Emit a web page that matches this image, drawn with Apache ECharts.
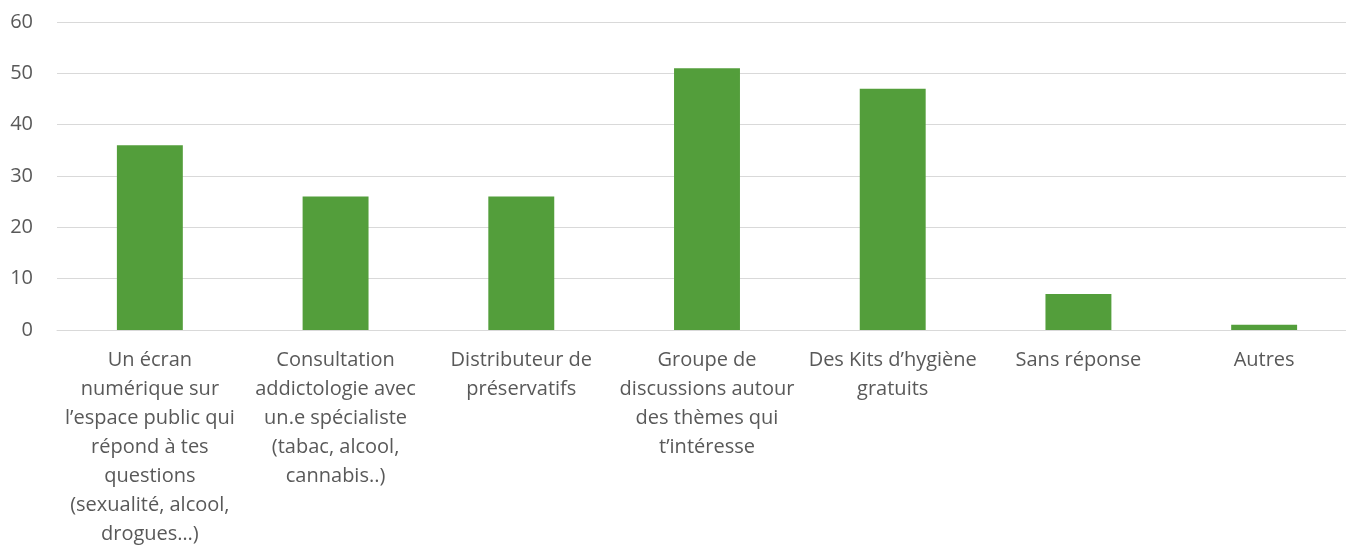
<!DOCTYPE html>
<html>
<head>
<meta charset="utf-8">
<script src="https://cdn.jsdelivr.net/npm/echarts@6/dist/echarts.min.js"></script>
<style>
  html, body { margin: 0; padding: 0; background: #fff; overflow: hidden; }
  #chart { width: 1357px; height: 549px; }
</style>
</head>
<body>
<div id="chart"></div>
<script>
// categories as printed under the axis (line breaks as in the picture)
const categories = [
  'Un écran\nnumérique sur\nl\u2019espace public qui\nrépond à tes\nquestions\n(sexualité, alcool,\ndrogues\u2026)',
  'Consultation\naddictologie avec\nun.e spécialiste\n(tabac, alcool,\ncannabis..)',
  'Distributeur de\npréservatifs',
  'Groupe de\ndiscussions autour\ndes thèmes qui\nt\u2019intéresse',
  'Des Kits d\u2019hygiène\ngratuits',
  'Sans réponse',
  'Autres'
]
const values = [36, 26, 26, 51, 47, 7, 1]
const yTicks = [0, 10, 20, 30, 40, 50, 60]

const chart = echarts.init(document.getElementById('chart'))

const option = {
  animation: false,
  textStyle: { fontFamily: 'Open Sans' },
  grid: {
    left: 57,
    right: 0,
    top: 22,
    bottom: 218
  },
  xAxis: {
    type: 'category',
    data: categories,
    axisLine: { lineStyle: { color: '#d9d9d9', width: 1 } },
    axisTick: { show: false },
    axisLabel: {
      interval: 0,
      color: '#595959',
      fontSize: 20,
      lineHeight: 29,
      margin: 16,
      align: 'center'
    }
  },
  yAxis: {
    type: 'value',
    min: yTicks[0],
    max: yTicks[yTicks.length - 1],
    interval: 10,
    axisLine: { show: false },
    axisTick: { show: false },
    axisLabel: { color: '#595959', fontSize: 20, margin: 24 },
    splitLine: { lineStyle: { color: '#d9d9d9', width: 1 } }
  },
  series: [
    {
      type: 'bar',
      data: values,
      barWidth: '35.5%',
      itemStyle: { color: '#539e3b' }
    }
  ]
}

chart.setOption(option)
</script>
</body>
</html>
